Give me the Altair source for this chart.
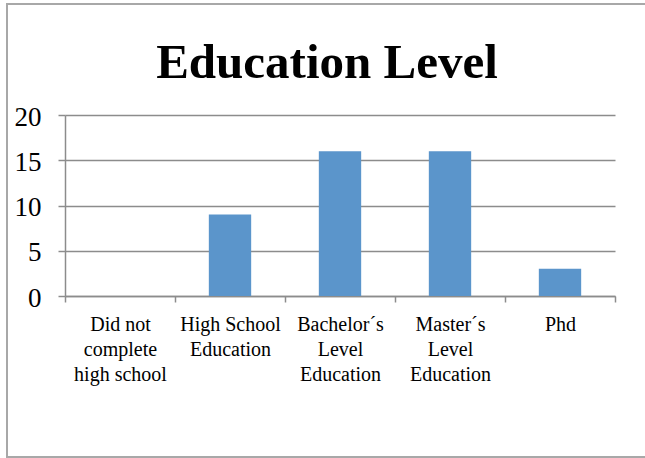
import altair as alt
import pandas as pd

title_text = ["Education Level"]
categories = ["Did not complete high school", "High School Education",
              "Bachelor´s Level Education", "Master´s Level Education", "Phd"]
label_lines = [["Did not", "complete", "high school"],
               ["High School", "Education"],
               ["Bachelor´s", "Level", "Education"],
               ["Master´s", "Level", "Education"],
               ["Phd"]]
values = [0, 9, 16, 16, 3]
y_ticks = [0, 5, 10, 15, 20]

df = pd.DataFrame({"category": categories, "value": values})

label_expr = ""
for cat, lines in zip(categories, label_lines):
    arr = "[" + ",".join("'" + l + "'" for l in lines) + "]"
    label_expr += f"datum.label == '{cat}' ? {arr} : "
label_expr += "datum.label"

FONT = "Liberation Serif"
GRAY = "#8c8c8c"

border = alt.Chart(pd.DataFrame({"a": [0]})).mark_rect(
    filled=False, stroke="#a8a8a8", strokeWidth=2
).encode(
    x=alt.value(-58), x2=alt.value(600), y=alt.value(-111), y2=alt.value(342)
)

title = alt.Chart(pd.DataFrame({"t": title_text})).mark_text(
    font=FONT, fontSize=49, fontWeight="bold", color="black",
    align="center", baseline="alphabetic"
).encode(text="t:N", x=alt.value(262), y=alt.value(-37))

bars = alt.Chart(df).mark_bar(
    color="#5b95cb", width=alt.RelativeBandSize(0.385)
).encode(
    x=alt.X("category:N", sort=categories, title=None,
            scale=alt.Scale(paddingInner=0, paddingOuter=0),
            axis=alt.Axis(labelAngle=0, labelExpr=label_expr, labelFont=FONT,
                          labelFontSize=20, labelColor="black", labelLineHeight=25,
                          labelPadding=12, tickBand="extent", tickSize=6,
                          tickColor=GRAY, domainColor=GRAY, domainWidth=1.5,
                          tickWidth=1.5, labelLimit=200)),
    y=alt.Y("value:Q", title=None,
            scale=alt.Scale(domain=[0, 20], nice=False),
            axis=alt.Axis(values=y_ticks, labelFont=FONT, labelFontSize=27,
                          labelColor="black", labelPadding=17, tickSize=7,
                          labelOffset=2,
                          tickColor=GRAY, domainColor=GRAY, gridColor=GRAY,
                          grid=True, gridWidth=1.5, domainWidth=1.5, tickWidth=1.5)),
)

chart = alt.layer(border, bars, title).properties(
    width=550, height=181,
    autosize=alt.AutoSizeParams(type="none"),
    padding={"left": 65, "top": 115, "right": 30, "bottom": 162},
).configure_view(stroke=None)

chart.save("out.html", embed_options={"renderer": "svg", "actions": False})
